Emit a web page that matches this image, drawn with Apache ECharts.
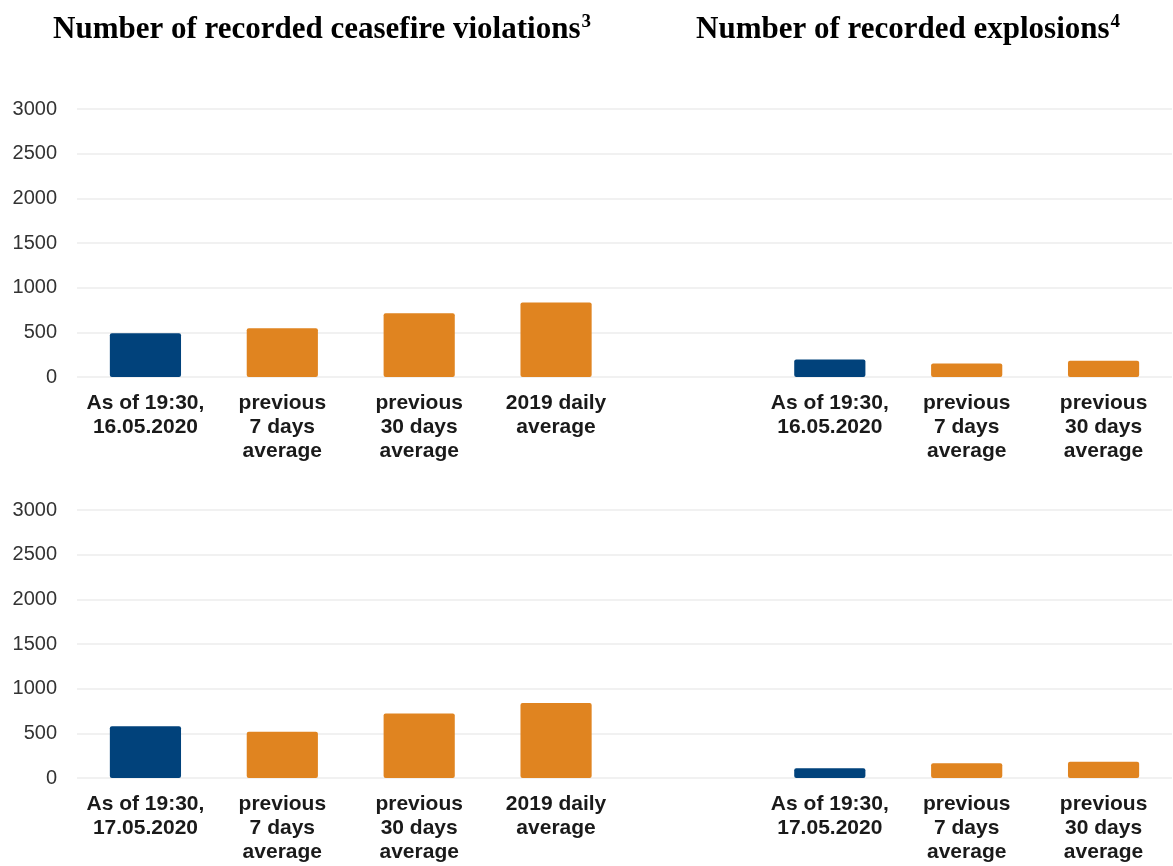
<!DOCTYPE html>
<html>
<head>
<meta charset="utf-8">
<script src="https://cdn.jsdelivr.net/npm/echarts@6/dist/echarts.min.js"></script>
<style>html,body{margin:0;padding:0;background:#fff}#c{width:1173px;height:866px}</style>
</head>
<body>
<div id="c"></div>
<script>
const catsTop = ['As of 19:30,\n16.05.2020', 'previous\n7 days\naverage', 'previous\n30 days\naverage', '2019 daily\naverage', '', 'As of 19:30,\n16.05.2020', 'previous\n7 days\naverage', 'previous\n30 days\naverage'];
const catsBottom = ['As of 19:30,\n17.05.2020', 'previous\n7 days\naverage', 'previous\n30 days\naverage', '2019 daily\naverage', '', 'As of 19:30,\n17.05.2020', 'previous\n7 days\naverage', 'previous\n30 days\naverage'];
const valuesTop = [490, 545, 715, 835, null, 197, 152, 181];
const valuesBottom = [580, 518, 722, 840, null, 108, 165, 182];
const isCurrent = [true, false, false, false, false, true, false, false];
const yTicks = [0, 500, 1000, 1500, 2000, 2500, 3000];

const NAVY = '#01427b';
const ORANGE = '#e08420';

function barData(vals) {
  return vals.map((v, i) => v === null ? '-' : {
    value: v,
    itemStyle: { color: isCurrent[i] ? NAVY : ORANGE }
  });
}

const xAxisCommon = {
  type: 'category',
  axisLine: { show: false },
  axisTick: { show: false },
  axisLabel: {
    interval: 0,
    fontFamily: 'Liberation Sans, Arial, sans-serif',
    fontWeight: 'bold',
    fontSize: 21,
    color: '#1a1a1a',
    lineHeight: 24,
    margin: 14
  }
};
const yAxisCommon = {
  type: 'value',
  min: 0,
  max: yTicks[yTicks.length - 1],
  interval: 500,
  axisLine: { show: false },
  axisTick: { show: false },
  splitLine: { lineStyle: { color: '#ececec', width: 1.5 } },
  axisLabel: {
    fontFamily: 'Liberation Sans, Arial, sans-serif',
    fontSize: 20,
    color: '#333',
    margin: 20,
    formatter: v => String(v)
  }
};
const titleRich = {
  m: { fontFamily: 'Liberation Serif, Times New Roman, serif', fontWeight: 'bold', fontSize: 31, color: '#000' },
  s: { fontFamily: 'Liberation Serif, Times New Roman, serif', fontSize: 19, color: '#000', verticalAlign: 'top', padding: [0, 0, 14, 1] }
};

const option = {
  backgroundColor: '#fff',
  animation: false,
  title: [
    { text: '{m|Number of recorded ceasefire violations}{s|3}', left: 48, top: 8, textStyle: { rich: titleRich } },
    { text: '{m|Number of recorded explosions}{s|4}', left: 691, top: 8, textStyle: { rich: titleRich } }
  ],
  grid: [
    { left: 77, right: 1, top: 109, height: 268 },
    { left: 77, right: 1, top: 510, height: 268 }
  ],
  xAxis: [
    Object.assign({ gridIndex: 0, data: catsTop }, xAxisCommon),
    Object.assign({ gridIndex: 1, data: catsBottom }, xAxisCommon)
  ],
  yAxis: [
    Object.assign({ gridIndex: 0 }, yAxisCommon),
    Object.assign({ gridIndex: 1 }, yAxisCommon)
  ],
  series: [
    { type: 'bar', xAxisIndex: 0, yAxisIndex: 0, barWidth: '52%', data: barData(valuesTop), itemStyle: { borderRadius: 2 } },
    { type: 'bar', xAxisIndex: 1, yAxisIndex: 1, barWidth: '52%', data: barData(valuesBottom), itemStyle: { borderRadius: 2 } }
  ]
};

const chart = echarts.init(document.getElementById('c'));
chart.setOption(option);
</script>
</body>
</html>
